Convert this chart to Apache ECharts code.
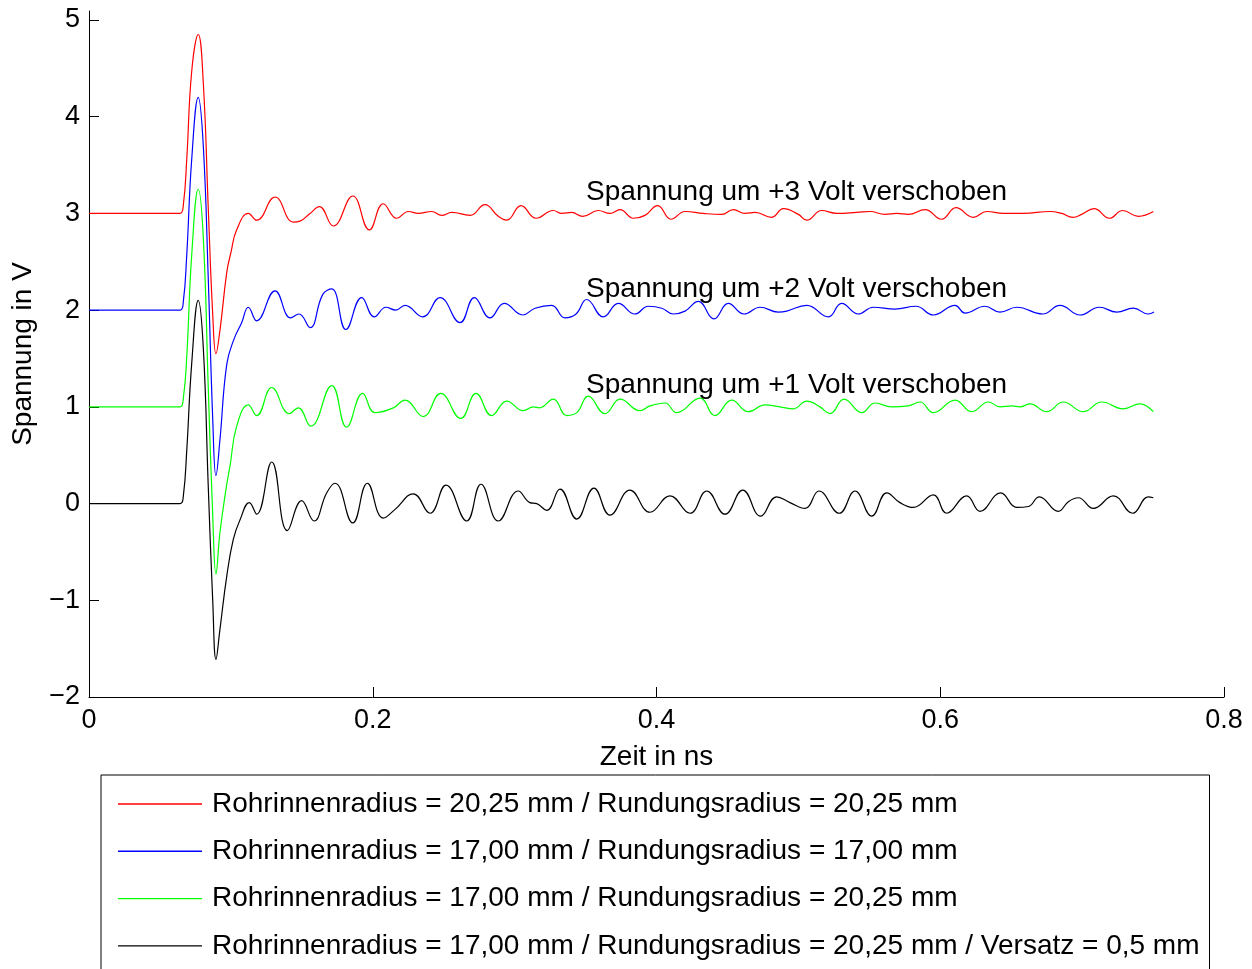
<!DOCTYPE html>
<html>
<head>
<meta charset="utf-8">
<script src="https://cdn.jsdelivr.net/npm/echarts@6/dist/echarts.min.js"></script>
<style>
  html, body { margin: 0; padding: 0; background: #fff; }
  #chart { width: 1252px; height: 969px; }
</style>
</head>
<body>
<div id="chart"></div>
<script>
// time in ns, voltage in V (already shifted as in the figure)
var redT = [0, 0.0641, 0.0665, 0.0689, 0.0724, 0.0770, 0.0806, 0.0841, 0.0872, 0.0895, 0.0923, 0.0971, 0.1001, 0.1041,
  0.1123, 0.1182, 0.1311, 0.1440, 0.1487, 0.1558, 0.1623, 0.1722, 0.1859, 0.1976, 0.2074, 0.2169, 0.2251, 0.2321,
  0.2416, 0.2486, 0.2557, 0.2686, 0.2791, 0.2885, 0.2944, 0.3045, 0.3151, 0.3273, 0.3332, 0.3402, 0.3480, 0.3590,
  0.3672, 0.3743, 0.3837, 0.3919, 0.4008, 0.4102, 0.4201, 0.4330, 0.4460, 0.4541, 0.4624, 0.4694, 0.4812, 0.4894,
  0.5000, 0.5059, 0.5164, 0.5270, 0.5411, 0.5505, 0.5611, 0.5693, 0.5775, 0.5893, 0.6010, 0.6111, 0.6233, 0.6327,
  0.6445, 0.6585, 0.6774, 0.6856, 0.6934, 0.6997, 0.7084, 0.7192, 0.7286, 0.7396, 0.7502];
var redV = [3.0, 3.0, 3.09, 3.56, 4.47, 4.85, 4.34, 3.04, 1.96, 1.55, 1.79, 2.39, 2.60, 2.83,
  3.00, 2.93, 3.17, 2.91, 2.92, 3.00, 3.07, 2.87, 3.18, 2.83, 3.10, 2.95, 3.02, 3.00,
  3.02, 2.98, 3.01, 2.98, 3.09, 2.97, 2.93, 3.08, 2.95, 3.03, 3.00, 3.01, 2.97, 3.03,
  3.00, 3.04, 2.95, 2.98, 3.08, 2.94, 3.02, 3.00, 2.99, 3.04, 3.00, 3.01, 2.96, 3.05,
  2.99, 2.93, 3.03, 3.00, 3.01, 3.02, 2.99, 3.00, 2.99, 3.04, 2.94, 3.06, 2.96, 3.02,
  3.00, 3.00, 3.02, 3.00, 2.96, 2.99, 3.05, 2.95, 3.03, 2.97, 3.02];

var blueT = [0, 0.0641, 0.0665, 0.0689, 0.0724, 0.0770, 0.0806, 0.0841, 0.0872, 0.0895, 0.0923, 0.0971, 0.1022, 0.1076,
  0.1123, 0.1182, 0.1311, 0.1422, 0.1480, 0.1558, 0.1647, 0.1711, 0.1811, 0.1922, 0.2011, 0.2093, 0.2162, 0.2227,
  0.2352, 0.2474, 0.2615, 0.2716, 0.2826, 0.2927, 0.3057, 0.3144, 0.3261, 0.3355, 0.3433, 0.3508, 0.3625, 0.3731,
  0.3848, 0.3942, 0.4037, 0.4118, 0.4201, 0.4295, 0.4405, 0.4506, 0.4617, 0.4730, 0.4858, 0.4918, 0.5059, 0.5211,
  0.5305, 0.5422, 0.5528, 0.5681, 0.5829, 0.5951, 0.6104, 0.6174, 0.6315, 0.6421, 0.6539, 0.6722, 0.6844, 0.6985,
  0.7121, 0.7244, 0.7361, 0.7466, 0.7507];
var blueV = [2.0, 2.0, 2.09, 2.57, 3.56, 4.20, 3.69, 2.31, 0.88, 0.29, 0.66, 1.44, 1.70, 1.87,
  2.03, 1.89, 2.20, 1.92, 1.96, 1.82, 2.16, 2.22, 1.80, 2.13, 1.93, 2.03, 2.00, 2.05,
  1.93, 2.13, 1.87, 2.13, 1.92, 2.07, 1.95, 2.02, 2.05, 1.92, 1.96, 2.11, 1.93, 2.07,
  1.96, 2.04, 2.02, 1.96, 1.99, 2.09, 1.91, 2.07, 1.96, 2.03, 1.98, 1.99, 2.05, 1.93,
  2.07, 1.96, 2.03, 2.01, 2.04, 1.95, 2.05, 1.97, 2.04, 1.98, 2.03, 1.96, 2.05, 1.95,
  2.03, 1.98, 2.02, 1.96, 1.98];

var greenT = [0, 0.0641, 0.0665, 0.0689, 0.0724, 0.0770, 0.0806, 0.0841, 0.0872, 0.0895, 0.0923, 0.0971, 0.0994, 0.1041,
  0.1123, 0.1182, 0.1288, 0.1412, 0.1475, 0.1563, 0.1711, 0.1816, 0.1929, 0.2016, 0.2145, 0.2227, 0.2356, 0.2479,
  0.2620, 0.2728, 0.2838, 0.2944, 0.3061, 0.3132, 0.3174, 0.3273, 0.3367, 0.3438, 0.3519, 0.3637, 0.3743, 0.3884,
  0.3954, 0.4060, 0.4142, 0.4307, 0.4412, 0.4530, 0.4647, 0.4765, 0.4870, 0.4964, 0.5059, 0.5152, 0.5223, 0.5322,
  0.5446, 0.5540, 0.5658, 0.5775, 0.5857, 0.5951, 0.6104, 0.6222, 0.6339, 0.6421, 0.6504, 0.6562, 0.6633, 0.6750,
  0.6867, 0.7008, 0.7138, 0.7290, 0.7408, 0.7502];
var greenV = [1.0, 1.0, 1.09, 1.52, 2.57, 3.25, 2.74, 1.18, -0.12, -0.73, -0.30, 0.20, 0.39, 0.80,
  1.02, 0.91, 1.20, 0.93, 0.99, 0.80, 1.22, 0.79, 1.14, 0.94, 0.99, 1.07, 0.90, 1.14,
  0.88, 1.14, 0.91, 1.06, 0.96, 1.00, 0.99, 1.08, 0.91, 0.94, 1.11, 0.93, 1.08, 0.96,
  1.01, 1.04, 0.94, 1.09, 0.91, 1.07, 0.95, 1.02, 1.00, 0.98, 1.06, 1.00, 0.93, 1.08,
  0.94, 1.04, 1.00, 1.01, 1.05, 0.94, 1.07, 0.95, 1.05, 1.00, 1.01, 1.00, 1.03, 0.95,
  1.05, 0.95, 1.05, 0.98, 1.03, 0.95];

var blackT = [0, 0.0641, 0.0665, 0.0689, 0.0724, 0.0770, 0.0806, 0.0841, 0.0872, 0.0895, 0.0923, 0.0971, 0.1017, 0.1064,
  0.1130, 0.1182, 0.1288, 0.1398, 0.1499, 0.1586, 0.1675, 0.1734, 0.1859, 0.1962, 0.2074, 0.2157, 0.2286, 0.2404,
  0.2516, 0.2662, 0.2763, 0.2885, 0.3026, 0.3108, 0.3156, 0.3226, 0.3320, 0.3438, 0.3559, 0.3672, 0.3813, 0.3954,
  0.4095, 0.4236, 0.4354, 0.4483, 0.4608, 0.4734, 0.4847, 0.4941, 0.5047, 0.5145, 0.5288, 0.5399, 0.5517, 0.5623,
  0.5716, 0.5810, 0.5951, 0.6045, 0.6186, 0.6280, 0.6426, 0.6539, 0.6621, 0.6698, 0.6832, 0.6903, 0.6973, 0.7079,
  0.7220, 0.7356, 0.7466, 0.7502];
var blackV = [0, 0, 0.08, 0.55, 1.45, 2.10, 1.60, 0.16, -1.00, -1.61, -1.30, -0.75, -0.37, -0.17,
  0.01, -0.11, 0.43, -0.28, 0.03, -0.18, 0.11, 0.21, -0.20, 0.21, -0.15, -0.06, 0.10, -0.10,
  0.19, -0.18, 0.20, -0.18, 0.13, 0.01, 0.00, -0.07, 0.15, -0.16, 0.16, -0.12, 0.14, -0.09,
  0.08, -0.10, 0.13, -0.11, 0.14, -0.13, 0.07, 0.01, -0.05, 0.13, -0.10, 0.13, -0.13, 0.11,
  0.01, -0.04, 0.09, -0.10, 0.08, -0.08, 0.11, -0.04, -0.03, 0.07, -0.08, 0.02, 0.06, -0.05,
  0.08, -0.10, 0.07, 0.06];

var yTicks = [-2, -1, 0, 1, 2, 3, 4, 5];

var seriesNames = [
  'Rohrinnenradius = 20,25 mm / Rundungsradius = 20,25 mm',
  'Rohrinnenradius = 17,00 mm / Rundungsradius = 17,00 mm',
  'Rohrinnenradius = 17,00 mm / Rundungsradius = 20,25 mm',
  'Rohrinnenradius = 17,00 mm / Rundungsradius = 20,25 mm / Versatz = 0,5 mm'
];
var seriesColors = ['#ff0000', '#0000ff', '#00ff00', '#000000'];

var noteTexts = ['Spannung um +3 Volt verschoben', 'Spannung um +2 Volt verschoben', 'Spannung um +1 Volt verschoben'];
var noteT = [0.35, 0.35, 0.35];
var noteV = [3.22, 2.22, 1.22];

function zip(t, v) {
  return t.map(function (x, i) { return [x, v[i]]; });
}

var FONT = 'Liberation Sans, Arial, Helvetica, sans-serif';

var chart = echarts.init(document.getElementById('chart'));

var curves = [zip(redT, redV), zip(blueT, blueV), zip(greenT, greenV), zip(blackT, blackV)];
var series = curves.map(function (d, i) {
  return {
    name: seriesNames[i],
    type: 'line',
    data: d,
    showSymbol: false,
    smooth: 0.45,
    lineStyle: { color: seriesColors[i], width: 1.2 },
    itemStyle: { color: seriesColors[i] },
    z: 10 - i
  };
});

series.push({
  name: 'notes',
  type: 'scatter',
  silent: true,
  symbolSize: 1,
  itemStyle: { color: 'rgba(0,0,0,0)' },
  data: zip(noteT, noteV),
  label: {
    show: true,
    position: 'right',
    distance: 0,
    color: '#000000',
    opacity: 1,
    textBorderWidth: 0,
    fontSize: 28,
    fontFamily: FONT,
    formatter: function (p) { return noteTexts[p.dataIndex]; }
  },
  z: 20
});

var option = {
  animation: false,
  backgroundColor: '#fff',
  textStyle: { fontFamily: FONT },
  // axis box runs a little above the top tick (5), as in the original figure
  grid: { left: 89, right: 28, top: 11, bottom: 272 },
  xAxis: {
    type: 'value',
    min: 0,
    max: 0.8,
    interval: 0.2,
    name: 'Zeit in ns',
    nameLocation: 'middle',
    nameGap: 46,
    nameTextStyle: { color: '#000', fontSize: 28, fontFamily: FONT },
    axisLine: { onZero: false, lineStyle: { color: '#000', width: 1 } },
    axisTick: { inside: true, length: 10, lineStyle: { color: '#000' } },
    axisLabel: { color: '#000', fontSize: 27, fontFamily: FONT, margin: 10 },
    splitLine: { show: false }
  },
  yAxis: {
    type: 'value',
    min: -2,
    max: 5.093,
    interval: 1,
    name: 'Spannung in V',
    nameLocation: 'middle',
    nameGap: 52,
    nameRotate: 90,
    nameTextStyle: { color: '#000', fontSize: 28, fontFamily: FONT },
    axisLine: { show: true, onZero: false, lineStyle: { color: '#000', width: 1 } },
    axisTick: { show: true, inside: true, length: 10, customValues: yTicks, lineStyle: { color: '#000' } },
    axisLabel: {
      color: '#000', fontSize: 27, fontFamily: FONT, margin: 9,
      customValues: yTicks,
      formatter: function (v) { return String(v).replace('-', '\u2212'); }
    },
    splitLine: { show: false }
  },
  legend: {
    data: seriesNames,
    orient: 'vertical',
    left: 101,
    top: 775,
    height: 260,
    icon: 'rect',
    itemWidth: 84,
    itemHeight: 1.4,
    itemGap: 19.3,
    padding: [15, 10, 30, 17],
    borderColor: '#000',
    borderWidth: 1,
    borderRadius: 0,
    selectedMode: false,
    textStyle: { color: '#000', fontSize: 28, fontFamily: FONT, lineHeight: 28, padding: [0, 0, 0, 5] }
  },
  series: series
};

chart.setOption(option);
</script>
</body>
</html>
